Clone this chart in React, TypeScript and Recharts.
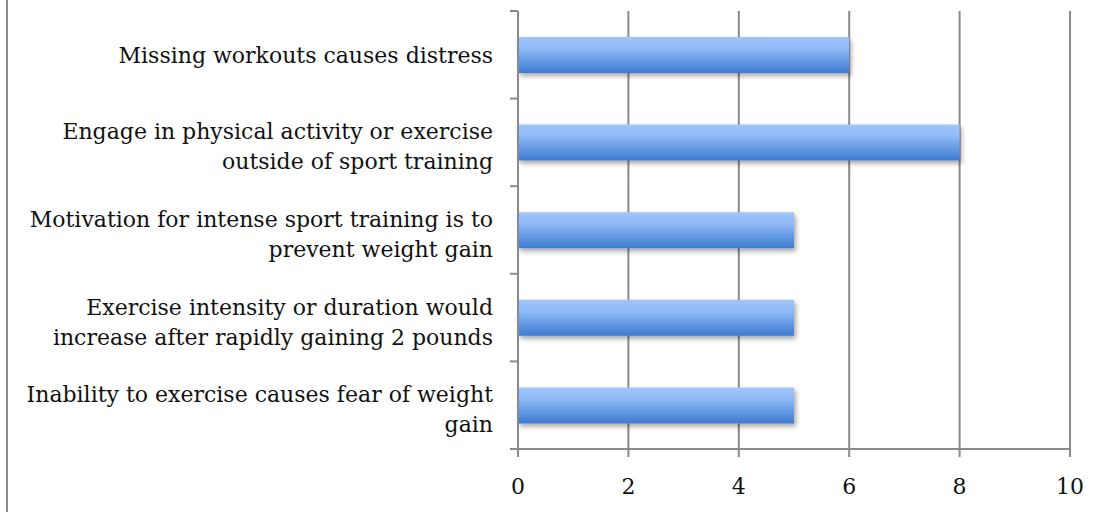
import React from 'react';
import { BarChart, Bar, XAxis, YAxis, CartesianGrid } from 'recharts';

// top to bottom, as in the reference
const categories = [
  'Missing workouts causes distress',
  'Engage in physical activity or exercise\noutside of sport training',
  'Motivation for intense sport training is to\nprevent weight gain',
  'Exercise intensity or duration would\nincrease after rapidly gaining 2 pounds',
  'Inability to exercise causes fear of weight\ngain',
];
const counts = [6, 8, 5, 5, 5];
const xTicks = [0, 2, 4, 6, 8, 10];

const data = categories.map((name, i) => ({ name, value: counts[i] }));

const W = 1112;
const H = 512;
const MARGIN = { top: 11, right: 42, bottom: 0, left: 0 };
const X_AXIS_H = 63;
const Y_AXIS_W = 518;
const TICK_SIZE = 8;
const Y_TICK_MARGIN = 17;
const BAND = (H - MARGIN.top - MARGIN.bottom - X_AXIS_H) / categories.length;
const GRID = '#8a8a8a';
const FONT = '"DejaVu Serif", serif';
const LINE_H = 30;

const CategoryTick = (props: any) => {
  const { x, y, payload, index } = props;
  const axisX = x + TICK_SIZE + Y_TICK_MARGIN;
  const lines = String(payload.value).split('\n');
  // wrapped labels sit a little below the band centre in the original
  const firstY = y - ((lines.length - 1) * LINE_H) / 2 + 8 + (lines.length - 1) * 4;
  const isLast = index === categories.length - 1;
  return (
    <g>
      <line x1={axisX - TICK_SIZE} x2={axisX} y1={y - BAND / 2} y2={y - BAND / 2} stroke={GRID} strokeWidth={2} />
      {isLast && (
        <line x1={axisX - TICK_SIZE} x2={axisX} y1={y + BAND / 2} y2={y + BAND / 2} stroke={GRID} strokeWidth={2} />
      )}
      <text textAnchor="end" fill="#111" style={{ fontSize: 22, fontFamily: FONT }}>
        {lines.map((l, i) => (
          <tspan key={i} x={x} y={firstY + i * LINE_H}>
            {l}
          </tspan>
        ))}
      </text>
    </g>
  );
};

export default function App() {
  return (
    <div style={{ position: 'absolute', left: 0, top: 0, width: W, height: H, background: '#fff' }}>
      <div style={{ position: 'absolute', left: 6, top: 0, width: 2, height: H, background: GRID }} />
      <BarChart width={W} height={H} data={data} layout="vertical" margin={MARGIN} barSize={36}>
        <defs>
          <linearGradient id="barFill" x1="0" y1="0" x2="0" y2="1">
            <stop offset="0%" stopColor="#9ec5fc" />
            <stop offset="30%" stopColor="#92bbf7" />
            <stop offset="100%" stopColor="#3c7bd1" />
          </linearGradient>
          <filter id="barShadow" x="-5%" y="-30%" width="110%" height="170%">
            <feDropShadow dx="2" dy="3" stdDeviation="2.5" floodColor="#000" floodOpacity="0.35" />
          </filter>
        </defs>
        <CartesianGrid horizontal={false} stroke={GRID} strokeWidth={2} />
        <XAxis
          type="number"
          domain={[0, 10]}
          ticks={xTicks}
          interval={0}
          height={X_AXIS_H}
          stroke={GRID}
          strokeWidth={2}
          tickSize={TICK_SIZE}
          tickMargin={21}
          tick={{ fill: '#111', fontSize: 22, fontFamily: FONT }}
        />
        <YAxis
          type="category"
          dataKey="name"
          width={Y_AXIS_W}
          stroke={GRID}
          strokeWidth={2}
          tickLine={false}
          tickSize={TICK_SIZE}
          tickMargin={Y_TICK_MARGIN}
          interval={0}
          tick={<CategoryTick />}
        />
        <Bar dataKey="value" fill="url(#barFill)" filter="url(#barShadow)" isAnimationActive={false} />
      </BarChart>
    </div>
  );
}
